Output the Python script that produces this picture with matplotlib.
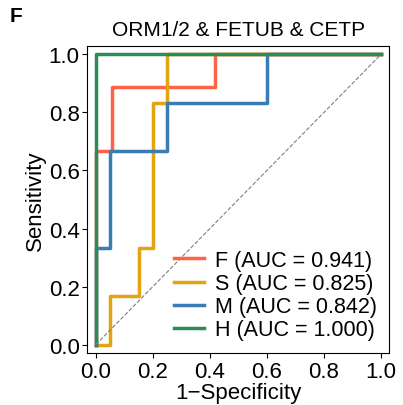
import numpy as np
import matplotlib
matplotlib.use('Agg')
import matplotlib.pyplot as plt

plt.rcParams['font.family'] = ['Liberation Sans', 'DejaVu Sans']

# ROC curves
labels = ['F', 'S', 'M', 'H']
aucs = [0.941, 0.825, 0.842, 1.000]
colors = ['#FF6347', '#E0A510', '#3A7DB5', '#2E8B57']

fpr_f = [0, 0, 0.056, 0.056, 0.417, 0.417, 1]
tpr_f = [0, 0.667, 0.667, 0.889, 0.889, 1, 1]
fpr_s = [0, 0.05, 0.05, 0.15, 0.15, 0.2, 0.2, 0.25, 0.25, 1]
tpr_s = [0, 0, 0.167, 0.167, 0.333, 0.333, 0.833, 0.833, 1, 1]
fpr_m = [0, 0, 0.05, 0.05, 0.25, 0.25, 0.6, 0.6, 1]
tpr_m = [0, 0.333, 0.333, 0.667, 0.667, 0.833, 0.833, 1, 1]
fpr_h = [0, 0, 1]
tpr_h = [0, 1, 1]

fprs = [fpr_f, fpr_s, fpr_m, fpr_h]
tprs = [tpr_f, tpr_s, tpr_m, tpr_h]

fig = plt.figure(figsize=(4.03, 4.06), dpi=100)
ax = fig.add_axes([0.2166, 0.1273, 0.7499, 0.7577])

for fp, tp, lab, auc, c in zip(fprs, tprs, labels, aucs, colors):
    ax.plot(fp, tp, color=c, lw=2.5, label=f'{lab} (AUC = {auc:.3f})')

ax.plot([0, 1], [0, 1], color='gray', lw=0.8, ls='--')

ax.set_xlim(-0.03, 1.03)
ax.set_ylim(-0.03, 1.03)
ax.set_xticks(np.arange(0, 1.01, 0.2))
ax.set_yticks(np.arange(0, 1.01, 0.2))
ax.tick_params(labelsize=16, pad=2)
ax.set_xlabel('1\u2212Specificity', fontsize=16, labelpad=0)
ax.set_ylabel('Sensitivity', fontsize=16, labelpad=2)
ax.set_title('ORM1/2 & FETUB & CETP', fontsize=15, pad=8)
ax.legend(loc='lower right', frameon=False, fontsize=15.5, handlelength=1.4,
          labelspacing=0.1, borderaxespad=0.2, handletextpad=0.5)
fig.text(0.025, 0.945, 'F', fontsize=15, fontweight='bold')

fig.savefig('out.png', dpi=100)
